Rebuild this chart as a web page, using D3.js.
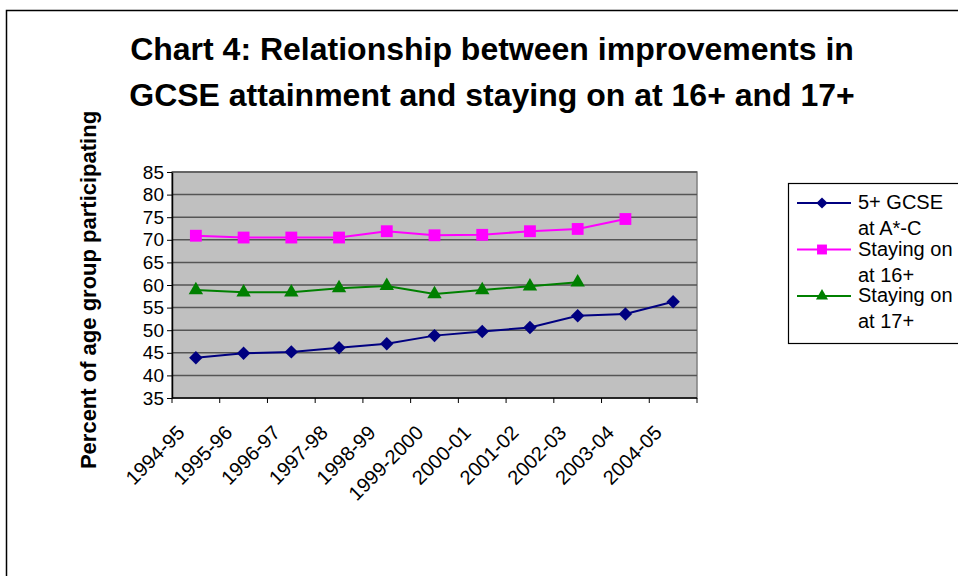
<!DOCTYPE html>
<html>
<head>
<meta charset="utf-8">
<script src="https://cdn.jsdelivr.net/npm/d3@7"></script>
<style>
  body { margin: 0; background: #fff; }
  svg { font-family: "Liberation Sans", Arial, sans-serif; }
</style>
</head>
<body>
<div id="chart"></div>
<script>
const years = ["1994-95", "1995-96", "1996-97", "1997-98", "1998-99", "1999-2000",
    "2000-01", "2001-02", "2002-03", "2003-04", "2004-05"];
const gcse = [43.9, 44.9, 45.2, 46.1, 47.0, 48.8, 49.7, 50.6, 53.2, 53.6, 56.3];
const stay16 = [70.9, 70.5, 70.5, 70.5, 71.9, 71.0, 71.1, 71.9, 72.4, 74.6];
const stay17 = [58.9, 58.4, 58.4, 59.3, 59.8, 58.0, 58.9, 59.7, 60.6];
const yTicks = [35, 40, 45, 50, 55, 60, 65, 70, 75, 80, 85];

const series = [
    { name: ["5+ GCSE", "at A*-C"], values: gcse, color: "#000080", symbol: "diamond" },
    { name: ["Staying on", "at 16+"], values: stay16, color: "#ff00ff", symbol: "square" },
    { name: ["Staying on", "at 17+"], values: stay17, color: "#008000", symbol: "triangle" }
];

const W = 958, H = 576;
const margin = { top: 172, left: 172 };
const width = 525, height = 226;

const svg = d3.select("#chart").append("svg")
    .attr("width", W).attr("height", H);

// outer chart border
svg.append("rect")
    .attr("x", 6.5).attr("y", 10.5)
    .attr("width", 1000).attr("height", 1000)
    .attr("fill", "none").attr("stroke", "#000").attr("stroke-width", 1.5);

// title
svg.append("text")
    .attr("x", 492).attr("y", 60)
    .attr("text-anchor", "middle")
    .attr("font-size", 32).attr("font-weight", "bold")
    .text("Chart 4: Relationship between improvements in");
svg.append("text")
    .attr("x", 492).attr("y", 106)
    .attr("text-anchor", "middle")
    .attr("font-size", 32).attr("font-weight", "bold")
    .text("GCSE attainment and staying on at 16+ and 17+");

const g = svg.append("g")
    .attr("transform", "translate(" + margin.left + "," + margin.top + ")");

const x = d3.scaleBand().domain(years).range([0, width]);
const y = d3.scaleLinear().domain([35, 85]).range([height, 0]);

// plot area
g.append("rect")
    .attr("width", width).attr("height", height)
    .attr("fill", "#c0c0c0").attr("stroke", "#808080").attr("stroke-width", 1.5);

// gridlines
g.selectAll(".grid")
    .data(yTicks.slice(1))
    .enter().append("line")
    .attr("x1", 0).attr("x2", width)
    .attr("y1", d => y(d)).attr("y2", d => y(d))
    .attr("stroke", "#555").attr("stroke-width", 1.5);

// Y axis
const yAxis = g.append("g")
    .call(d3.axisLeft(y).tickValues(yTicks).tickSize(5).tickSizeOuter(0).tickPadding(3));
yAxis.selectAll("text").attr("font-size", 19).attr("fill", "#000").attr("font-family", "Liberation Sans, Arial, sans-serif");
yAxis.select(".domain").attr("stroke", "#000").attr("stroke-width", 1.5);

// X axis with ticks between categories
const xAxisG = g.append("g").attr("transform", "translate(0," + height + ")");
xAxisG.append("line")
    .attr("x1", 0).attr("x2", width)
    .attr("stroke", "#000").attr("stroke-width", 1.5);
xAxisG.selectAll(".tk")
    .data(years.concat(["end"]))
    .enter().append("line")
    .attr("x1", (d, i) => i * x.bandwidth()).attr("x2", (d, i) => i * x.bandwidth())
    .attr("y1", 0).attr("y2", 5)
    .attr("stroke", "#000").attr("stroke-width", 1);
xAxisG.selectAll(".lbl")
    .data(years)
    .enter().append("text")
    .attr("transform", d => "translate(" + (x(d) + x.bandwidth() / 2 - 10) + ",36) rotate(-45)")
    .attr("text-anchor", "end")
    .attr("font-size", 20)
    .text(d => d);

// y axis title
svg.append("text")
    .attr("transform", "translate(96,290) rotate(-90)")
    .attr("text-anchor", "middle")
    .attr("font-size", 22).attr("font-weight", "bold")
    .text("Percent of age group participating");

const symbolType = { diamond: d3.symbolSquare, square: d3.symbolSquare, triangle: d3.symbolTriangle };
const symbolSize = { diamond: 90, square: 140, triangle: 90 };
const symbolRot = { diamond: 45, square: 0, triangle: 0 };

const line = d3.line()
    .x((d, i) => x(years[i]) + x.bandwidth() / 2)
    .y(d => y(d));

series.forEach(s => {
    g.append("path")
        .datum(s.values)
        .attr("fill", "none")
        .attr("stroke", s.color)
        .attr("stroke-width", 2)
        .attr("d", line);
    g.selectAll(".m-" + s.symbol)
        .data(s.values)
        .enter().append("path")
        .attr("transform", (d, i) => "translate(" + (x(years[i]) + x.bandwidth() / 2) + "," + y(d) + ") rotate(" + symbolRot[s.symbol] + ")")
        .attr("d", d3.symbol().type(symbolType[s.symbol]).size(symbolSize[s.symbol]))
        .attr("fill", s.color);
});

// legend
const legend = svg.append("g");
legend.append("rect")
    .attr("x", 788.5).attr("y", 183.5)
    .attr("width", 200).attr("height", 160)
    .attr("fill", "#fff").attr("stroke", "#000").attr("stroke-width", 1.2);
series.forEach((s, i) => {
    const ly = 203 + i * 46.5;
    legend.append("line")
        .attr("x1", 797).attr("x2", 851)
        .attr("y1", ly).attr("y2", ly)
        .attr("stroke", s.color).attr("stroke-width", 2);
    legend.append("path")
        .attr("transform", "translate(822," + ly + ") rotate(" + symbolRot[s.symbol] + ")")
        .attr("d", d3.symbol().type(symbolType[s.symbol]).size(symbolSize[s.symbol] * 0.7))
        .attr("fill", s.color);
    s.name.forEach((t, j) => {
        legend.append("text")
            .attr("x", 858).attr("y", ly + 6 + j * 26)
            .attr("font-size", 20)
            .text(t);
    });
});
</script>
</body>
</html>
